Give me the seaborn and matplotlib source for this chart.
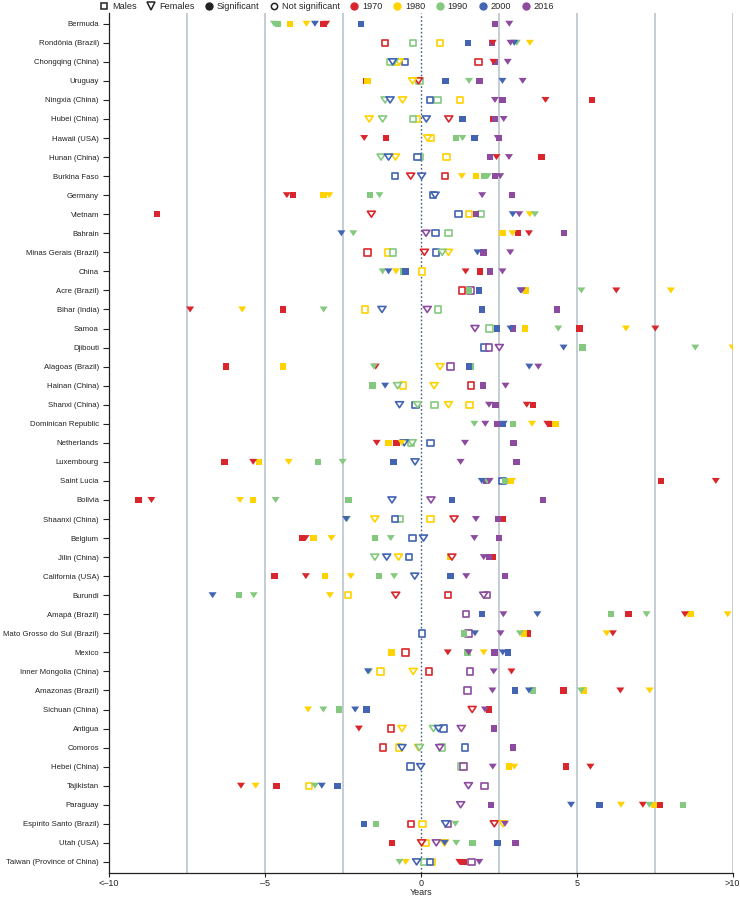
import pandas as pd
import matplotlib.pyplot as plt
import seaborn as sns
from matplotlib.lines import Line2D
from matplotlib.path import Path

LOCATIONS = [
    "Bermuda", "Rondônia (Brazil)", "Chongqing (China)", "Uruguay", "Ningxia (China)",
    "Hubei (China)", "Hawaii (USA)", "Hunan (China)", "Burkina Faso", "Germany",
    "Vietnam", "Bahrain", "Minas Gerais (Brazil)", "China", "Acre (Brazil)",
    "Bihar (India)", "Samoa", "Djibouti", "Alagoas (Brazil)", "Hainan (China)",
    "Shanxi (China)", "Dominican Republic", "Netherlands", "Luxembourg", "Saint Lucia",
    "Bolivia", "Shaanxi (China)", "Belgium", "Jilin (China)", "California (USA)",
    "Burundi", "Amapá (Brazil)", "Mato Grosso do Sul (Brazil)", "Mexico", "Inner Mongolia (China)",
    "Amazonas (Brazil)", "Sichuan (China)", "Antigua", "Comoros", "Hebei (China)",
    "Tajikistan", "Paraguay", "Espírito Santo (Brazil)", "Utah (USA)", "Taiwan (Province of China)",
]

YEARS = [1970, 1980, 1990, 2000, 2016]
YEAR_COLORS = {1970: "#d9262c", 1980: "#ffd200", 1990: "#84c97f", 2000: "#4264b2", 2016: "#8c4b9e"}

# change in years, one value per location (None = not shown); sig 1 = significant
M_1970 = [-3.12, -1.14, 1.85, -1.76, 5.49, 2.32, -1.12, 3.87, 0.77, -4.10,
          -8.45, 3.12, -1.71, 1.91, 1.32, -4.41, 5.09, None, -6.25, 1.61,
          3.61, 4.15, -0.77, -6.29, 7.71, -9.04, 2.62, -3.80, 2.30, -4.69,
          0.88, 6.66, 3.42, -0.49, 0.27, 4.58, 2.19, -0.96, -1.21, 4.66,
          -4.62, 7.66, -0.32, -0.92, 1.37]
M_1970_SIG = [1, 0, 0, 1, 1, 1, 1, 1, 0, 1, 1, 1, 0, 1, 0, 1, 1, 0, 1, 0, 1, 1, 1,
              1, 1, 1, 1, 1, 1, 1, 0, 1, 1, 0, 0, 1, 1, 0, 0, 1, 1, 1, 0, 1, 1]

M_1980 = [-4.18, 0.61, -0.75, -1.70, 1.25, -0.13, 0.33, 0.83, 1.77, -3.11,
          1.55, 2.62, -1.05, 0.04, 3.37, -1.79, 3.35, None, -4.41, -0.56,
          1.57, 4.32, -1.03, -5.19, 2.88, -5.37, 0.32, -3.43, 0.93, -3.07,
          -2.33, 8.65, 3.32, -0.93, -1.29, 5.24, None, None, -0.69, 2.83,
          -3.57, 7.47, 0.06, 0.17, 0.35]
M_1980_SIG = [1, 0, 0, 1, 0, 0, 0, 0, 1, 1, 0, 1, 0, 0, 1, 0, 1, 0, 1, 0, 0, 1, 1,
              1, 1, 1, 0, 1, 1, 1, 0, 1, 1, 1, 0, 1, 0, 0, 0, 1, 0, 1, 0, 0, 0]

M_1990 = [-4.58, -0.24, -0.98, -0.04, 0.54, -0.24, 1.14, -0.02, 2.03, -1.62,
          1.94, 0.89, -0.88, -0.56, 1.55, 0.56, 2.20, 5.19, 1.62, -1.54,
          0.44, 2.95, -0.32, -3.30, 2.70, -2.31, -0.66, -1.46, None, -1.34,
          -5.83, 6.11, 1.38, 1.50, None, 3.61, -2.62, None, 0.69, 1.31,
          None, 8.41, -1.43, 1.66, 0.12]
M_1990_SIG = [1, 0, 0, 0, 0, 0, 1, 0, 1, 1, 0, 0, 0, 1, 1, 0, 0, 1, 1, 1, 0, 1, 0,
              1, 1, 1, 0, 1, 0, 1, 1, 1, 1, 1, 0, 1, 1, 0, 0, 0, 0, 1, 1, 1, 0]

M_2000 = [-1.92, 1.52, -0.51, 0.79, 0.30, 1.34, 1.72, -0.10, -0.82, 0.40,
          1.21, 0.48, 0.49, -0.49, 1.87, 1.96, 2.45, 2.04, 1.55, None,
          -0.17, 2.62, 0.31, -0.87, 2.62, 1.00, -0.83, -0.26, -0.37, 0.95,
          None, 1.96, 0.05, 2.80, None, 3.03, -1.74, 0.73, 1.43, -0.33,
          -2.67, 5.73, -1.81, 2.46, 0.30]
M_2000_SIG = [1, 1, 0, 1, 0, 1, 1, 0, 0, 0, 0, 0, 0, 1, 1, 1, 1, 0, 1, 0, 0, 1, 0,
              1, 0, 1, 0, 0, 0, 1, 0, 1, 0, 1, 0, 1, 1, 0, 0, 0, 1, 1, 1, 1, 0]

M_2016 = [2.38, 2.28, 2.38, 1.89, 2.62, 2.38, 2.51, 2.22, 2.38, 2.92,
          1.77, 4.59, 2.01, 2.23, 1.60, 4.37, 2.95, 2.19, 0.95, 2.00,
          2.40, 2.45, 2.98, 3.07, 2.10, 3.93, 2.48, 2.51, 2.19, 2.70,
          2.13, 1.46, 1.53, 2.36, 1.59, 1.50, None, 2.34, 2.96, 1.37,
          2.04, 2.25, 0.87, 3.04, 1.63]
M_2016_SIG = [1, 1, 1, 1, 1, 1, 1, 1, 1, 1, 1, 1, 1, 1, 0, 1, 1, 0, 0, 1, 1, 1, 1,
              1, 1, 1, 1, 1, 1, 1, 0, 0, 0, 1, 0, 0, 0, 1, 1, 0, 0, 1, 0, 1, 0]

F_1970 = [-3.03, 2.31, 2.33, -0.07, 4.00, 0.90, -1.81, 2.43, -0.32, -4.29,
          -1.58, 3.47, 0.12, 1.44, 6.27, -7.39, 7.52, None, -1.44, None,
          3.40, 4.06, -1.41, -5.37, 9.46, -8.63, 1.07, -3.69, 1.00, -3.68,
          -0.80, 8.47, 6.16, 0.87, 2.91, 6.40, 1.65, -1.98, None, 5.44,
          -5.76, 7.12, 2.36, 0.03, 1.24]
F_1970_SIG = [1, 1, 1, 0, 1, 0, 1, 1, 0, 1, 0, 1, 0, 1, 1, 1, 1, 0, 1, 0, 1, 1, 1,
              1, 1, 1, 0, 1, 0, 1, 0, 1, 1, 1, 1, 1, 0, 1, 0, 1, 1, 1, 0, 0, 1]

F_1980 = [-3.66, 3.50, -0.69, -0.26, -0.58, -1.65, 0.22, -0.81, 1.32, -2.93,
          3.50, 2.94, 0.89, -0.79, 8.02, -5.72, 6.58, 10.0, 0.62, 0.43,
          0.89, 3.57, -0.61, -4.23, 2.93, -5.79, -1.47, -2.86, -0.71, -2.24,
          -2.91, 9.84, 5.96, 2.02, -0.24, 7.34, -3.61, -0.60, -0.07, 3.00,
          -5.29, 6.42, 2.64, 0.76, -0.48]
F_1980_SIG = [1, 1, 0, 0, 0, 0, 0, 0, 1, 1, 1, 1, 0, 1, 1, 1, 1, 1, 0, 0, 0, 1, 1,
              1, 1, 1, 0, 1, 0, 1, 1, 1, 1, 1, 0, 1, 1, 0, 0, 1, 1, 1, 0, 0, 1]

F_1990 = [-4.70, 3.08, -0.85, 1.55, -1.14, -1.22, 1.34, -1.27, 2.15, -1.32,
          3.66, -2.16, 0.69, -1.22, 5.15, -3.11, 4.41, 8.80, -1.50, -0.74,
          -0.10, 1.72, -0.27, -2.50, 2.13, -4.65, -2.36, -0.96, -1.47, -0.85,
          -5.35, 7.24, 3.18, None, -1.65, 5.14, -3.12, 0.41, -0.04, None,
          -3.39, 7.33, 1.11, 1.14, -0.68]
F_1990_SIG = [1, 1, 0, 1, 0, 0, 1, 0, 1, 1, 1, 1, 0, 1, 1, 1, 1, 1, 1, 0, 0, 1, 0,
              1, 1, 1, 1, 1, 0, 1, 1, 1, 1, 0, 1, 1, 1, 0, 0, 0, 1, 1, 1, 1, 1]

F_2000 = [-3.39, 3.00, -0.90, 2.62, -0.98, 0.18, 1.74, -1.03, 0.03, 0.46,
          2.95, -2.54, 1.82, -1.03, 3.20, -1.24, 2.88, 4.58, 3.48, -1.14,
          -0.68, 2.66, -0.53, -0.18, 1.96, -0.92, -2.39, 0.09, -1.09, -0.19,
          -6.67, 3.74, 1.74, 2.63, -1.69, 3.47, -2.10, 0.57, -0.60, 0.00,
          -3.17, 4.82, 0.80, 0.77, -0.13]
F_2000_SIG = [1, 1, 0, 1, 0, 0, 1, 0, 0, 0, 1, 1, 1, 1, 1, 0, 1, 1, 1, 1, 0, 1, 0,
              0, 1, 0, 1, 0, 0, 0, 1, 1, 1, 1, 1, 1, 1, 0, 0, 0, 1, 1, 0, 1, 0]

F_2016 = [2.84, 2.88, 2.79, 3.27, 2.38, 2.66, 2.47, 2.83, 2.55, 1.97,
          3.16, 0.17, 2.87, 2.62, 3.24, 0.21, 1.74, 2.52, 3.77, 2.72,
          2.19, 2.07, 1.42, 1.28, 2.21, 0.33, 1.77, 1.72, 2.02, 1.46,
          2.02, 2.65, 2.56, 1.54, 2.34, 2.30, 2.06, 1.30, 0.61, 2.31,
          1.53, 1.28, 2.70, 0.50, 1.88]
F_2016_SIG = [1, 1, 1, 1, 1, 1, 1, 1, 1, 1, 1, 0, 1, 1, 1, 0, 0, 0, 1, 1, 1, 1, 1,
              1, 1, 0, 1, 1, 1, 1, 0, 1, 1, 1, 1, 1, 1, 0, 0, 1, 0, 0, 1, 0, 1]

SERIES = {
    ("Males", 1970): (M_1970, M_1970_SIG), ("Males", 1980): (M_1980, M_1980_SIG),
    ("Males", 1990): (M_1990, M_1990_SIG), ("Males", 2000): (M_2000, M_2000_SIG),
    ("Males", 2016): (M_2016, M_2016_SIG),
    ("Females", 1970): (F_1970, F_1970_SIG), ("Females", 1980): (F_1980, F_1980_SIG),
    ("Females", 1990): (F_1990, F_1990_SIG), ("Females", 2000): (F_2000, F_2000_SIG),
    ("Females", 2016): (F_2016, F_2016_SIG),
}

rows = []
for (sex, year), (vals, sigs) in SERIES.items():
    for i, (v, s) in enumerate(zip(vals, sigs)):
        if v is None:
            continue
        rows.append({"pos": i, "location": LOCATIONS[i], "sex": sex,
                     "year": year, "value": v, "sig": bool(s)})
df = pd.DataFrame(rows)

sns.set_theme(style="white")
plt.rcParams["font.family"] = ["Liberation Sans", "DejaVu Sans"]

fig = plt.figure(figsize=(7.4, 8.97), dpi=100)
ax = fig.add_axes([0.1469, 0.0268, 0.8432, 0.9582])

for xv in [-7.5, -5, -2.5, 2.5, 5, 7.5, 10]:
    ax.axvline(xv, color="#c4ccd4", lw=1.4, zorder=0)
ax.axvline(0, color="#3f5f7c", lw=1.0, ls=(0, (1.2, 1.6)), zorder=0.5)

square = Path([(-1, -1), (1, -1), (1, 1), (-1, 1), (-1, -1)], closed=True)
tri = Path([(-1, 0.75), (1, 0.75), (0, -0.75), (-1, 0.75)], closed=True)

for sex, marker, size in [("Males", square, 21), ("Females", tri, 33)]:
    for sig in (False, True):
        sub = df[(df["sex"] == sex) & (df["sig"] == sig)]
        sns.scatterplot(data=sub, x="value", y="pos", hue="year", palette=YEAR_COLORS,
                        marker=marker, s=size, linewidth=0 if sig else 1.2,
                        legend=False, ax=ax, zorder=3)
        if not sig:
            coll = ax.collections[-1]
            coll.set_edgecolors(coll.get_facecolors())
            coll.set_facecolors("white")

ax.set_xlim(-10, 10)
ax.set_ylim(44.58, -0.54)
ax.set_xticks([-10, -5, 0, 5, 10])
ax.set_xticklabels(["<\u201310", "\u20135", "0", "5", ">10"], fontsize=6.5)
ax.set_yticks(range(len(LOCATIONS)))
ax.set_yticklabels(LOCATIONS, fontsize=5.55)
ax.set_xlabel("Years", fontsize=6.5, labelpad=0.5)
ax.set_ylabel("")
ax.tick_params(axis="x", direction="out", length=3, width=0.8, color="#222222",
               pad=1.2, bottom=True, labelcolor="#222222")
ax.tick_params(axis="y", direction="out", length=4, width=0.8, color="#222222",
               pad=3, left=True, labelcolor="#222222")
for side in ["top", "right"]:
    ax.spines[side].set_visible(False)
for side in ["left", "bottom"]:
    ax.spines[side].set_color("#222222")
    ax.spines[side].set_linewidth(0.9)

handles = [
    Line2D([], [], ls="", marker="s", ms=4.5, mfc="white", mec="#222222", mew=1.1),
    Line2D([], [], ls="", marker="v", ms=5.5, mfc="white", mec="#222222", mew=1.1),
    Line2D([], [], ls="", marker="o", ms=5, mfc="#222222", mec="#222222"),
    Line2D([], [], ls="", marker="o", ms=4.5, mfc="white", mec="#222222", mew=1.1),
] + [Line2D([], [], ls="", marker="o", ms=5, mfc=YEAR_COLORS[y], mec=YEAR_COLORS[y])
     for y in YEARS]
labels = ["Males", "Females", "Significant", "Not significant"] + [str(y) for y in YEARS]
fig.legend(handles, labels, loc="upper left", bbox_to_anchor=(0.135, 0.9985), ncol=9,
           frameon=False, fontsize=6.6, handlelength=0.7, handletextpad=0.5,
           columnspacing=1.25, borderaxespad=0, borderpad=0.1)

fig.savefig("out.png", dpi=100)
